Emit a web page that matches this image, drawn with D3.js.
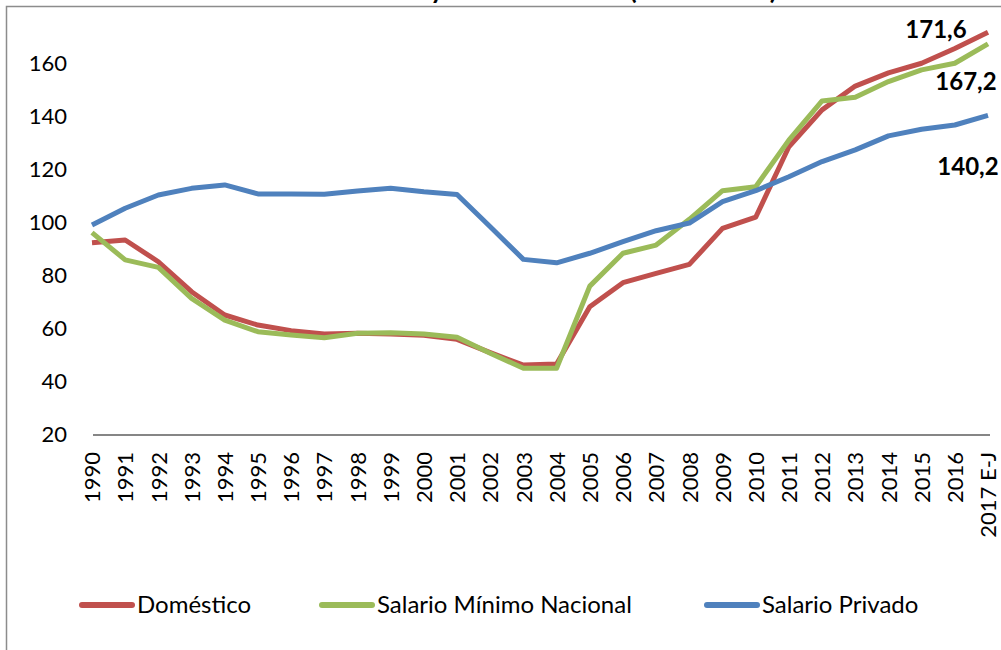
<!DOCTYPE html>
<html>
<head>
<meta charset="utf-8">
<script src="https://cdn.jsdelivr.net/npm/d3@7"></script>
<style>
  html, body { margin: 0; padding: 0; background: #fff; }
  svg { display: block; }
  text { font-family: Lato, "Open Sans", sans-serif; fill: #000; }
</style>
</head>
<body>
<svg id="chart" width="1001" height="650"></svg>
<script>
const years = ["1990","1991","1992","1993","1994","1995","1996","1997","1998","1999",
  "2000","2001","2002","2003","2004","2005","2006","2007","2008","2009",
  "2010","2011","2012","2013","2014","2015","2016","2017 E-J"];

const domestico = [92.2, 93.2, 85.0, 73.7, 64.9, 61.1, 59.0, 57.7, 58.0, 57.7,
  57.3, 55.7, 50.7, 46.0, 46.4, 68.0, 77.1, 80.6, 84.0, 97.6,
  101.8, 128.4, 142.3, 151.3, 156.3, 159.9, 165.5, 171.6];

const minimo = [96.0, 85.7, 82.9, 71.2, 63.0, 58.6, 57.4, 56.3, 58.0, 58.2,
  57.7, 56.5, 50.5, 44.8, 44.8, 75.8, 88.2, 91.3, 101.0, 111.8,
  113.3, 130.9, 145.7, 147.1, 153.0, 157.4, 159.9, 167.2];

const privado = [98.9, 105.2, 110.2, 112.7, 114.0, 110.6, 110.6, 110.5, 111.7, 112.7,
  111.4, 110.4, 98.2, 85.9, 84.6, 88.2, 92.6, 96.7, 99.6, 107.7,
  111.8, 117.1, 122.8, 127.2, 132.5, 135.0, 136.6, 140.2];

const yTicks = [20, 40, 60, 80, 100, 120, 140, 160];

const seriesNames = ["Doméstico", "Salario Mínimo Nacional", "Salario Privado"];
const seriesColors = ["#C0504D", "#9BBB59", "#4F81BD"];
const endLabels = ["171,6", "167,2", "140,2"];

const titleParts = ["Salario Doméstico Real y", "Salario Mínimo", "(1990 = 100)"];

const svg = d3.select("#chart");

// chart frame
svg.append("rect")
  .attr("x", 6.5).attr("y", 6.5)
  .attr("width", 1010).attr("height", 660)
  .attr("fill", "none").attr("stroke", "#8c8c8c").attr("stroke-width", 1.5);

// title (sits above the frame; only its lower part is visible, as in the reference)
const title = svg.append("text")
  .attr("y", -1)
  .style("font-weight", "bold")
  .style("font-size", "26px");
title.append("tspan").attr("x", 444).attr("text-anchor", "end").text(titleParts[0]);
title.append("tspan").attr("x", 530).attr("text-anchor", "middle").text(titleParts[1]);
title.append("tspan").attr("x", 777).attr("text-anchor", "end").text(titleParts[2]);

const x = d3.scalePoint().domain(years).range([92, 988]).padding(0);
const y = d3.scaleLinear().domain([20, 180]).range([434, 10]);

// y axis labels
const yAxis = d3.axisLeft(y).tickValues(yTicks).tickSize(0).tickPadding(0);
const gy = svg.append("g").attr("transform", "translate(67,0)").call(yAxis);
gy.select(".domain").remove();
gy.selectAll("text")
  .style("font-family", "Lato, 'Open Sans', sans-serif")
  .style("font-size", "22px")
  .attr("fill", "#000");

// x axis
const xAxis = d3.axisBottom(x).tickSize(0).tickPadding(0);
const gx = svg.append("g").attr("transform", "translate(0,435)").call(xAxis);
gx.select(".domain").remove();
gx.append("line")
  .attr("x1", 93).attr("x2", 990).attr("y1", 0).attr("y2", 0)
  .attr("stroke", "#868686").attr("stroke-width", 2);
gx.selectAll(".tick text")
  .style("font-family", "Lato, 'Open Sans', sans-serif")
  .style("font-size", "22px")
  .attr("fill", "#000")
  .attr("text-anchor", "end")
  .attr("transform", "rotate(-90)")
  .attr("x", -17)
  .attr("y", 0)
  .attr("dy", "0.35em");

// lines
const data = [domestico, minimo, privado];
const line = d3.line()
  .x((d, i) => x(years[i]))
  .y(d => y(d));

data.forEach((vals, k) => {
  svg.append("path")
    .datum(vals)
    .attr("d", line)
    .attr("fill", "none")
    .attr("stroke", seriesColors[k])
    .attr("stroke-width", 5)
    .attr("stroke-linejoin", "round");
});

// end labels
const labelPos = [
  { dx: -52, dy: 6 },
  { dx: -22, dy: 46 },
  { dx: -20, dy: 60 }
];
data.forEach((vals, k) => {
  const last = vals[vals.length - 1];
  svg.append("text")
    .attr("x", x(years[years.length - 1]) + labelPos[k].dx)
    .attr("y", y(last) + labelPos[k].dy)
    .attr("text-anchor", "middle")
    .style("font-weight", "bold")
    .style("font-size", "24px")
    .text(endLabels[k]);
});

// legend
const legendX = [80, 320, 705];
seriesNames.forEach((name, k) => {
  const g = svg.append("g").attr("transform", `translate(${legendX[k]},605)`);
  g.append("line")
    .attr("x1", 2).attr("x2", 52).attr("y1", 0).attr("y2", 0)
    .attr("stroke", seriesColors[k]).attr("stroke-width", 6)
    .attr("stroke-linecap", "round");
  g.append("text")
    .attr("x", 57).attr("y", 0).attr("dy", "0.35em")
    .style("font-size", "24px")
    .text(name);
});
</script>
</body>
</html>
